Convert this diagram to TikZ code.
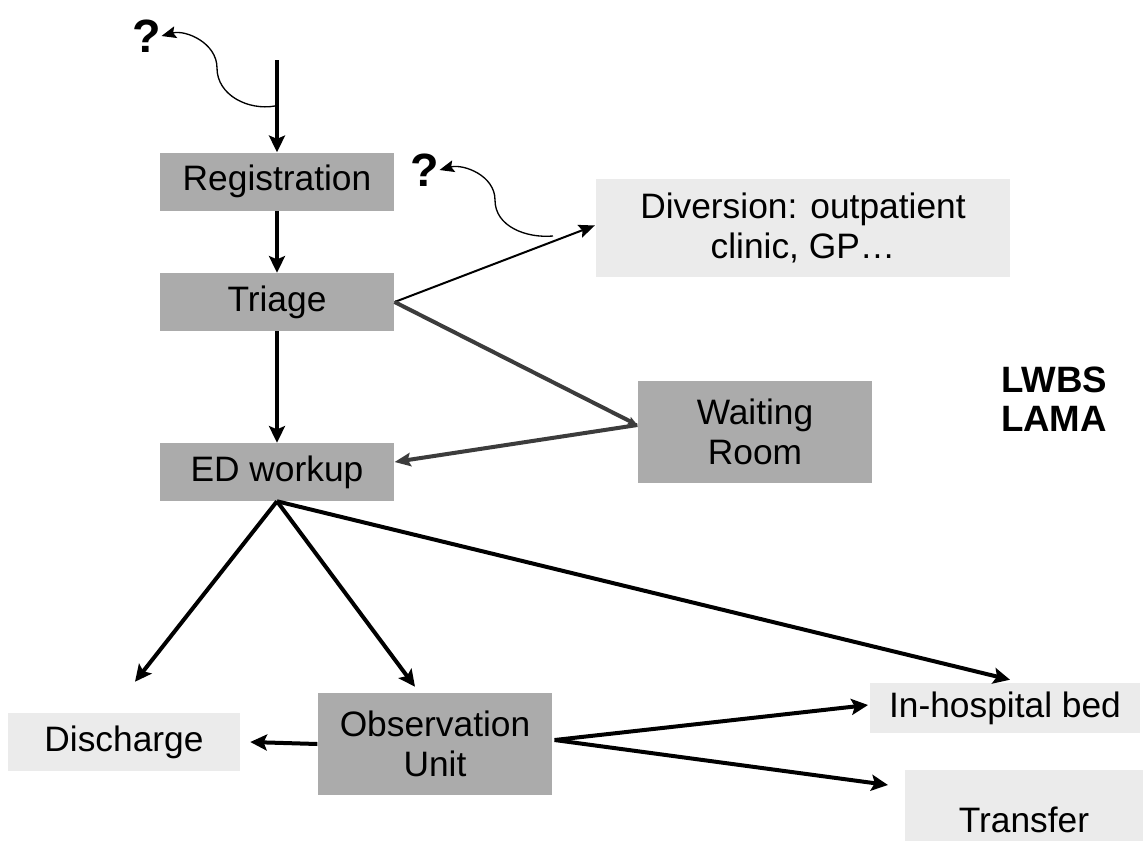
\documentclass[tikz,border=0pt]{standalone}
\usepackage{fontspec}
\setmainfont{Liberation Sans}
\usetikzlibrary{arrows.meta,calc}
\definecolor{boxdark}{HTML}{ABABAB}
\definecolor{boxlight}{HTML}{EBEBEB}
\definecolor{lndark}{HTML}{3C3C3C}
\begin{document}
\begin{tikzpicture}[x=0.75pt,y=-0.75pt,
  txt/.style={inner sep=0pt, align=center, font=\fontsize{26.5}{30}\selectfont},
  darkbox/.style={txt, fill=boxdark},
  lightbox/.style={txt, fill=boxlight},
  qmark/.style={inner sep=0pt, font=\fontsize{35}{38}\selectfont\bfseries},
  arr/.style={line width=3pt, -{Stealth[length=12.5pt,width=12pt,inset=2.5pt]}},
  thinarr/.style={line width=1.5pt, -{Stealth[length=12pt,width=10pt,inset=2pt]}},
  curvearr/.style={line width=1pt, -{Stealth[length=11pt,width=9pt,inset=2pt]}},
  grayarr/.style={line width=3pt, draw=lndark, -{Stealth[length=12pt,width=10pt,inset=2pt]}},
  smallarr/.style={line width=3pt, draw=lndark, -{Stealth[length=7pt,width=6pt,inset=1pt]}}
]
\clip (0,0) rectangle (1143,840);
\useasboundingbox (0,0) rectangle (1143,840);
\fill[white] (0,0) rectangle (1143,840);

% nodes
\node[darkbox, minimum width=176pt, minimum height=43.5pt] (reg) at (277,181.5) {Registration};
\node[darkbox, minimum width=176pt, minimum height=43.5pt] (tri) at (277,302) {Triage};
\node[darkbox, minimum width=176pt, minimum height=43.5pt] (ed) at (277,472) {ED workup};
\node[lightbox, minimum width=310pt, minimum height=73pt] (div) at (803,228) {Diversion: outpatient\\clinic, GP\ldots};
\node[darkbox, minimum width=176pt, minimum height=76.5pt] (wr) at (755,432) {Waiting\\Room};
\node[txt, font=\fontsize{27.5}{29}\selectfont\bfseries] (lw) at (1054,399) {LWBS\\LAMA};
\node[lightbox, minimum width=174pt, minimum height=43.5pt] (dis) at (124,742) {Discharge};
\node[darkbox, minimum width=176pt, minimum height=76.5pt] (obs) at (435,744) {Observation\\Unit};
\node[lightbox, minimum width=202pt, minimum height=37.5pt] (bed) at (1005,708) {In-hospital bed};
\node[lightbox, minimum width=178pt, minimum height=75pt] (tr) at (1024,820) {Transfer};
\node[qmark] (q1) at (147,36) {?};
\node[qmark] (q2) at (425,170) {?};

% helper coordinates
\coordinate (top) at (277,60);
\coordinate (c1) at (275,106);
\coordinate (c2) at (553,236);
\coordinate (trin) at (888,785);

% main flow
\draw[arr] (top) -- (reg.north);
\draw[arr] (reg.south) -- (tri.north);
\draw[arr] (tri.south) -- (ed.north);

% triage branches
\draw[thinarr, shorten >=1pt] (tri.east) -- (div.west |- 0,225);
\draw[smallarr] (tri.east) -- ($(wr.west)+(0,-7)$);
\draw[grayarr] ($(wr.west)+(0,-7)$) -- ($(ed.east)+(0,-10)$);

% ED workup branches
\draw[arr] (ed.south) -- ($(dis.north)+(11,-31)$);
\draw[arr] (ed.south) -- ($(obs.north)+(-20,-6)$);
\draw[arr] (ed.south) -- ($(bed.north)+(5,-3)$);

% observation branches
\draw[arr] (obs.west) -- ($(dis.east)+(10,0)$);
\draw[arr] ($(obs.east)+(2,-4)$) -- ($(bed.west)+(-2,-3)$);
\draw[arr] ($(obs.east)+(2,-4)$) -- (trin);

% question curves
\draw[curvearr] (c1) to[out=190,in=-90] (217,68) to[out=90,in=15] (q1.east);
\draw[curvearr] (c2) to[out=185,in=-90] (495,200) to[out=90,in=15] (q2.east);
\end{tikzpicture}
\end{document}
